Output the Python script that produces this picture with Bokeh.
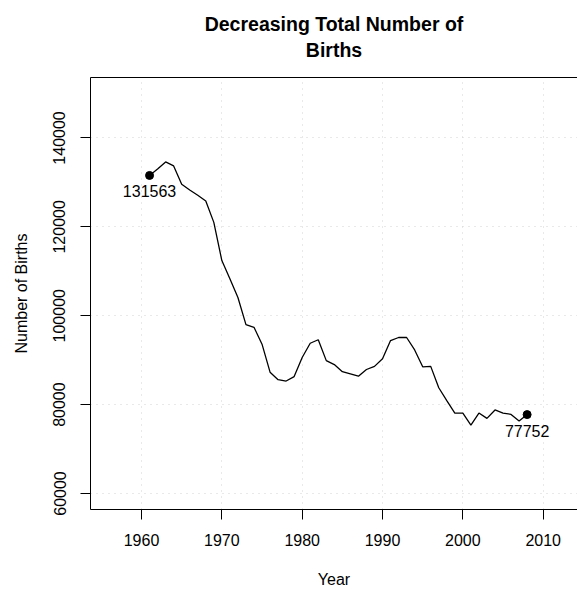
from bokeh.plotting import figure
from bokeh.models import Range1d, FixedTicker, LinearAxis
from bokeh.core.properties import value
from bokeh.embed import file_html
from bokeh.resources import INLINE

# ---- data ----
years = list(range(1961, 2009))
births = [131563, 133000, 134600, 133700, 129600, 128300, 127100, 125800, 121000, 112400,
          108300, 104100, 98000, 97400, 93600, 87300, 85600, 85300, 86300, 90600,
          93800, 94600, 89900, 89000, 87400, 86900, 86400, 87900, 88600, 90300,
          94400, 95100, 95100, 92300, 88500, 88600, 83800, 80900, 78100, 78100,
          75400, 78100, 76900, 78800, 78100, 77800, 76300, 77752]
marked_years = [1961, 2008]
marked_values = [131563, 77752]
marked_labels = ["131563", "77752"]
x_ticks = [1960, 1970, 1980, 1990, 2000, 2010]
x_tick_labels = ["1960", "1970", "1980", "1990", "2000", "2010"]
y_ticks = [60000, 80000, 100000, 120000, 140000]
y_tick_labels = ["60000", "80000", "100000", "120000", "140000"]
title_lines = ["Decreasing Total Number of", "Births"]
x_label = "Year"
y_label = "Number of Births"

FONT = "Liberation Sans"

p = figure(width=577, height=590, output_backend="svg", toolbar_location=None,
           x_range=Range1d(1953.65, 2014.27), y_range=Range1d(56400, 153600),
           title=None, min_border_left=90, min_border_right=0,
           min_border_top=77, min_border_bottom=81,
           outline_line_color=None, background_fill_color="white",
           border_fill_color="white")

bx = p.below[0]
ly = p.left[0]

for ax in (bx, ly):
    ax.axis_line_color = "black"
    ax.axis_line_width = 1
    ax.major_tick_line_color = "black"
    ax.major_tick_line_width = 1
    ax.major_tick_out = 10
    ax.major_tick_in = 0
    ax.minor_tick_line_color = None
    ax.major_label_text_font = FONT
    ax.major_label_text_font_size = "16px"
    ax.major_label_text_color = "black"
    ax.axis_label_text_font = FONT
    ax.axis_label_text_font_size = "16px"
    ax.axis_label_text_font_style = "normal"
    ax.axis_label_text_color = "black"

bx.ticker = FixedTicker(ticks=x_ticks)
bx.major_label_overrides = dict(zip(x_ticks, x_tick_labels))
bx.major_label_standoff = 14
bx.axis_label = x_label
bx.axis_label_standoff = 22

ly.ticker = FixedTicker(ticks=y_ticks)
ly.major_label_overrides = dict(zip(y_ticks, y_tick_labels))
ly.major_label_orientation = "vertical"
ly.major_label_standoff = 15
ly.axis_label = y_label
ly.axis_label_standoff = 21

for g in (p.xgrid[0], p.ygrid[0]):
    g.grid_line_color = "#d3d3d3"
    g.grid_line_dash = "1 5"
    g.grid_line_width = 1


def title_axis(text, standoff, line_color):
    return LinearAxis(ticker=FixedTicker(ticks=[]), axis_label=text,
                      axis_label_standoff=standoff, axis_label_text_font=FONT,
                      axis_label_text_font_size="19.5px", axis_label_text_font_style="bold",
                      axis_label_text_color="black", major_tick_out=0, major_tick_in=0,
                      minor_tick_out=0, minor_tick_in=0, major_label_standoff=0,
                      axis_line_color=line_color, axis_line_width=1)


# title lines as label-only axes above the frame (nearest first); the first also
# draws the top side of the box
p.add_layout(title_axis(title_lines[1], 17, "black"), "above")
p.add_layout(title_axis(title_lines[0], 1, None), "above")

p.line(years, births, line_color="black", line_width=1.3)
p.scatter(marked_years, marked_values, size=8, color="black")
p.text(x=marked_years, y=marked_values, text=marked_labels, text_font=value(FONT),
       text_font_size="16px", text_align="center", text_baseline="top", y_offset=10,
       text_color="black")

open("out.html", "w").write(file_html(p, INLINE))
